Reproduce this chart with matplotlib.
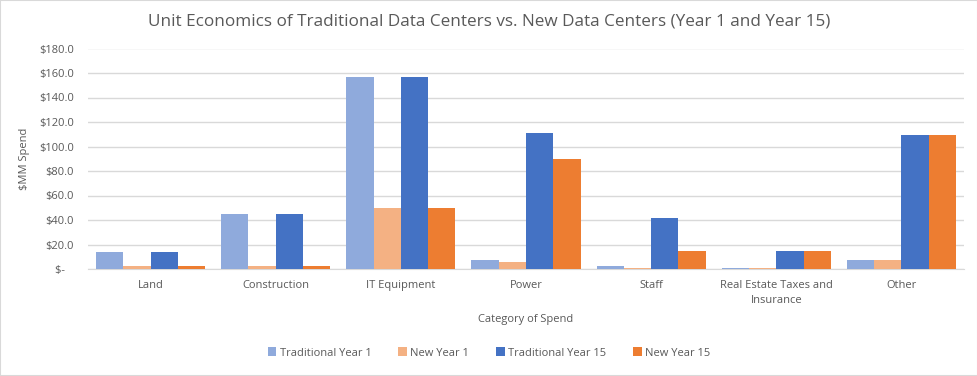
import matplotlib.pyplot as plt
import numpy as np
from matplotlib.patches import Rectangle
from matplotlib.ticker import FuncFormatter

categories = ['Land', 'Construction', 'IT Equipment', 'Power', 'Staff',
              'Real Estate Taxes and\nInsurance', 'Other']
series_names = ['Traditional Year 1', 'New Year 1', 'Traditional Year 15', 'New Year 15']
trad_y1 = [13.5, 44.5, 157.0, 7.5, 2.5, 1.0, 7.0]
new_y1 = [2.5, 2.5, 49.5, 6.0, 1.0, 1.0, 7.0]
trad_y15 = [13.5, 44.5, 157.0, 111.0, 42.0, 15.0, 109.5]
new_y15 = [2.5, 2.5, 49.5, 90.0, 15.0, 15.0, 109.5]
colors = ['#8FAADC', '#F4B183', '#4472C4', '#ED7D31']

text_col = '#595959'
plt.rcParams['font.family'] = ['Open Sans', 'DejaVu Sans']

fig = plt.figure(figsize=(9.78, 3.76), dpi=100)
ax = fig.add_axes([88/978, 1 - 269/376, 876/978, (269 - 48.5)/376])

x = np.arange(len(categories))
w = 0.218
data = [trad_y1, new_y1, trad_y15, new_y15]
for i, (vals, name, c) in enumerate(zip(data, series_names, colors)):
    ax.bar(x + (i - 1.5) * w, vals, width=w, color=c, label=name, zorder=3)

ax.set_xlim(-0.5, len(categories) - 0.5)
ax.set_ylim(0, 180)
ax.set_yticks(np.arange(0, 181, 20))

def fmt(v, pos):
    if v == 0:
        return '$-   '
    return '${:.1f}'.format(v)

ax.yaxis.set_major_formatter(FuncFormatter(fmt))
ax.grid(axis='y', color='#D9D9D9', linewidth=1, zorder=0)
for s in ['top', 'right', 'left']:
    ax.spines[s].set_visible(False)
ax.spines['bottom'].set_color('#D9D9D9')
ax.tick_params(axis='y', length=0, labelsize=8, labelcolor=text_col, pad=10)
ax.tick_params(axis='x', length=0, labelsize=8, labelcolor=text_col, pad=8)
ax.set_xticks(x)
ax.set_xticklabels(categories, linespacing=1.5, va='top')

ax.set_ylabel('$MM Spend', fontsize=8, color=text_col, labelpad=7)
ax.set_xlabel('Category of Spend', fontsize=8, color=text_col, labelpad=6)

fig.suptitle('Unit Economics of Traditional Data Centers vs. New Data Centers (Year 1 and Year 15)',
             fontsize=12.3, color=text_col, y=1 - 22/376, va='center')

fig.legend(loc='center', bbox_to_anchor=(0.5, 1 - 353/376), ncol=4, frameon=False,
           fontsize=8, labelcolor=text_col, handlelength=0.8, handleheight=0.8,
           handletextpad=0.3, columnspacing=2.4)

fig.patches.append(Rectangle((0, 0), 1, 1, transform=fig.transFigure, fill=False,
                             edgecolor='#D9D9D9', linewidth=1.5))

fig.savefig('out.png', dpi=100)
